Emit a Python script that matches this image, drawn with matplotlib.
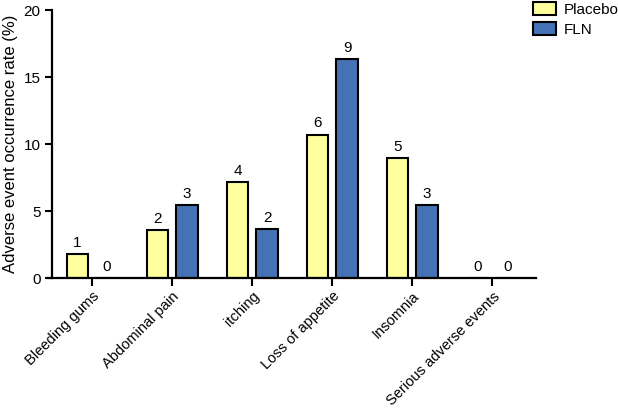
import numpy as np
import matplotlib.pyplot as plt

plt.rcParams['font.family'] = ['Liberation Sans', 'DejaVu Sans']

# data: adverse event counts and rates (%)
categories = ['Bleeding gums', 'Abdominal pain', 'itching', 'Loss of appetite',
              'Insomnia', 'Serious adverse events']
placebo_n = [1, 2, 4, 6, 5, 0]
fln_n = [0, 3, 2, 9, 3, 0]
placebo_pct = [1.79, 3.57, 7.14, 10.71, 8.93, 0.0]
fln_pct = [0.0, 5.45, 3.64, 16.36, 5.45, 0.0]

yellow = '#FFFF9E'
blue = '#4472B4'

fig = plt.figure(figsize=(6.18, 4.11), dpi=100)
ax = fig.add_axes([0.078, 0.3236, 0.79, 0.652])

x = np.arange(len(categories))
w = 0.27
off = 0.185
ax.bar(x - off, placebo_pct, w, color=yellow, edgecolor='black', linewidth=1.5, label='Placebo')
ax.bar(x + off, fln_pct, w, color=blue, edgecolor='black', linewidth=1.5, label='FLN')

for xi, v, n in zip(x - off, placebo_pct, placebo_n):
    ax.text(xi, v + 0.3, str(n), ha='center', va='bottom', fontsize=11)
for xi, v, n in zip(x + off, fln_pct, fln_n):
    ax.text(xi, v + 0.3, str(n), ha='center', va='bottom', fontsize=11)

ax.set_xlim(-0.55, 5.55)
ax.set_ylim(0, 20)
ax.set_yticks([0, 5, 10, 15, 20])
ax.set_xticks(x)
ax.set_xticklabels(categories, rotation=45, ha='right', rotation_mode='anchor', fontsize=10.5)
ax.tick_params(axis='y', labelsize=11, width=1.5, length=5)
ax.tick_params(axis='x', width=1.5, length=6, pad=2)
ax.set_ylabel('Adverse event occurrence rate (%)', fontsize=12, labelpad=4)

for s in ['top', 'right']:
    ax.spines[s].set_visible(False)
for s in ['left', 'bottom']:
    ax.spines[s].set_linewidth(1.6)
ax.spines['left'].set_position(('data', -0.5))

ax.legend(loc='upper left', bbox_to_anchor=(0.862, 0.995), bbox_transform=fig.transFigure,
          frameon=False, fontsize=11, handlelength=1.5, handleheight=0.9,
          handletextpad=0.5, labelspacing=0.35, borderaxespad=0, borderpad=0)

fig.savefig('out.png', dpi=100)
